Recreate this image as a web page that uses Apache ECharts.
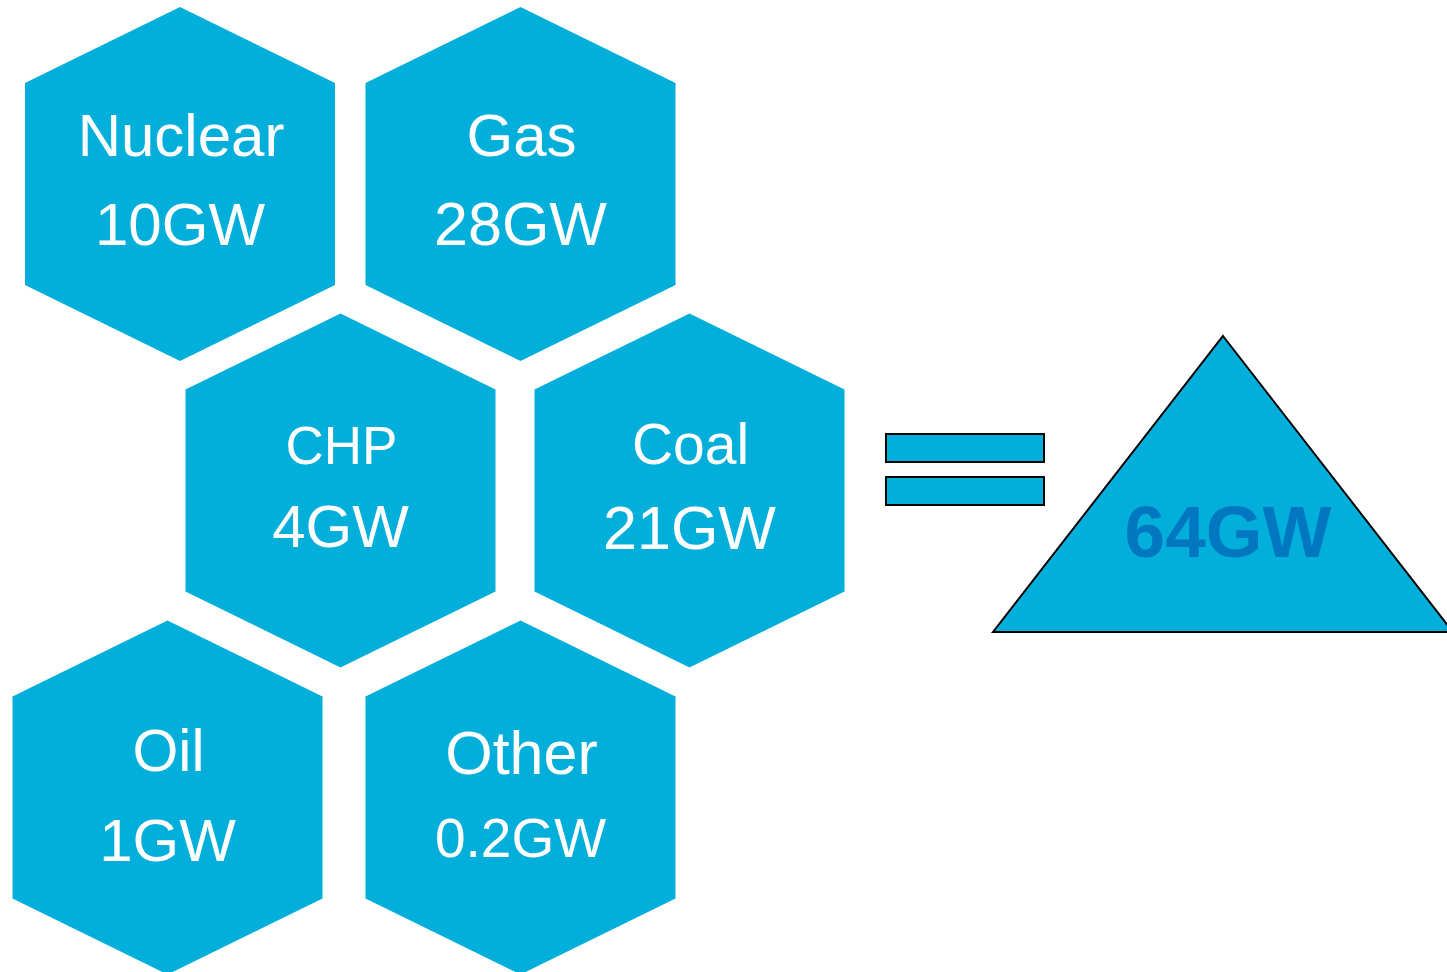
<!DOCTYPE html>
<html>
<head>
<meta charset="utf-8" />
<title>Generation capacity</title>
<script src="https://cdn.jsdelivr.net/npm/echarts@6/dist/echarts.min.js"></script>
<style>
  html, body { margin: 0; padding: 0; background: #fff; }
  #main { width: 1447px; height: 972px; }
</style>
</head>
<body>
<div id="main"></div>
<script type="text/javascript">
// data
var sources = ['Nuclear', 'Gas', 'CHP', 'Coal', 'Oil', 'Other'];
var capacityGW = [10, 28, 4, 21, 1, 0.2];
var totalGW = 64;

// layout: hexagon centres on the hidden axes (1 unit = 1 px)
var slotX = [180, 520.5, 340.5, 689.5, 167.5, 520.5];
var slotY = [184, 184, 490.5, 490.5, 797.5, 797.5];
var totalSlot = [1223, 484];
// text sizes (the boxes were auto-fitted, so they differ a little)
var nameFontSize = [60, 60, 53, 57, 59, 61];
var valueFontSize = [60, 61, 60, 61, 60, 55];
// baselines relative to the hexagon centre
var nameDy = [-26.7, -27.3, -26.2, -25.5, -25.8, -22.5];
var valueDy = [61.7, 62, 57.5, 59.5, 64.2, 59.8];

var HEX_FILL = '#02afda';
var FONT = '"Liberation Sans", Arial, sans-serif';
var MID = 0.29; // alphabetic baseline below the 'middle' baseline, in em

var hexData = [];
for (var i = 0; i < sources.length; i++) {
  hexData.push([slotX[i], slotY[i], capacityGW[i], sources[i]]);
}

function renderHex(params, api) {
  var i = params.dataIndex;
  var c = api.coord([api.value(0), api.value(1)]);
  var s = api.size([155, 177]);
  var hw = s[0], hh = s[1];
  var sh = hh * 101 / 177;
  var pts = [
    [c[0], c[1] - hh], [c[0] + hw, c[1] - sh], [c[0] + hw, c[1] + sh],
    [c[0], c[1] + hh], [c[0] - hw, c[1] + sh], [c[0] - hw, c[1] - sh]
  ];
  var nf = nameFontSize[i], vf = valueFontSize[i];
  return {
    type: 'group',
    children: [{
      type: 'polygon',
      shape: { points: pts },
      style: { fill: HEX_FILL }
    }, {
      type: 'text',
      style: {
        text: api.value(3),
        x: c[0] + 1, y: c[1] + nameDy[i] - MID * nf,
        fill: '#fff', fontSize: nf, fontFamily: FONT,
        align: 'center', verticalAlign: 'middle'
      }
    }, {
      type: 'text',
      style: {
        text: api.value(2) + 'GW',
        x: c[0], y: c[1] + valueDy[i] - MID * vf,
        fill: '#fff', fontSize: vf, fontFamily: FONT,
        align: 'center', verticalAlign: 'middle'
      }
    }]
  };
}

function renderTotal(params, api) {
  var c = api.coord([api.value(0), api.value(1)]);
  var half = api.size([230, 148]);
  var bar = api.size([158, 28]);
  var left = c[0] - 337; // equals sign sits left of the triangle
  return {
    type: 'group',
    children: [{
      type: 'rect',
      shape: { x: left, y: c[1] - 50, width: bar[0], height: bar[1] },
      style: { fill: HEX_FILL, stroke: '#000', lineWidth: 2 }
    }, {
      type: 'rect',
      shape: { x: left, y: c[1] - 7, width: bar[0], height: bar[1] },
      style: { fill: HEX_FILL, stroke: '#000', lineWidth: 2 }
    }, {
      type: 'polygon',
      shape: { points: [[c[0], c[1] - half[1]], [c[0] + half[0], c[1] + half[1]], [c[0] - half[0], c[1] + half[1]]] },
      style: { fill: HEX_FILL, stroke: '#000', lineWidth: 2 }
    }, {
      type: 'text',
      style: {
        text: api.value(2) + 'GW',
        x: c[0] + 5, y: c[1] + 74 - MID * 73,
        fill: '#0277c1', fontSize: 73, fontWeight: 'bold', fontFamily: FONT,
        align: 'center', verticalAlign: 'middle'
      }
    }]
  };
}

var myChart = echarts.init(document.getElementById('main'));
var option = {
  animation: false,
  grid: { left: 0, right: 0, top: 0, bottom: 0 },
  xAxis: { type: 'value', min: 0, max: 1447, show: false },
  yAxis: { type: 'value', min: 0, max: 972, inverse: true, show: false },
  series: [{
    type: 'custom',
    renderItem: renderHex,
    data: hexData,
    clip: false
  }, {
    type: 'custom',
    renderItem: renderTotal,
    data: [[totalSlot[0], totalSlot[1], totalGW]],
    clip: false
  }]
};
myChart.setOption(option);
</script>
</body>
</html>
